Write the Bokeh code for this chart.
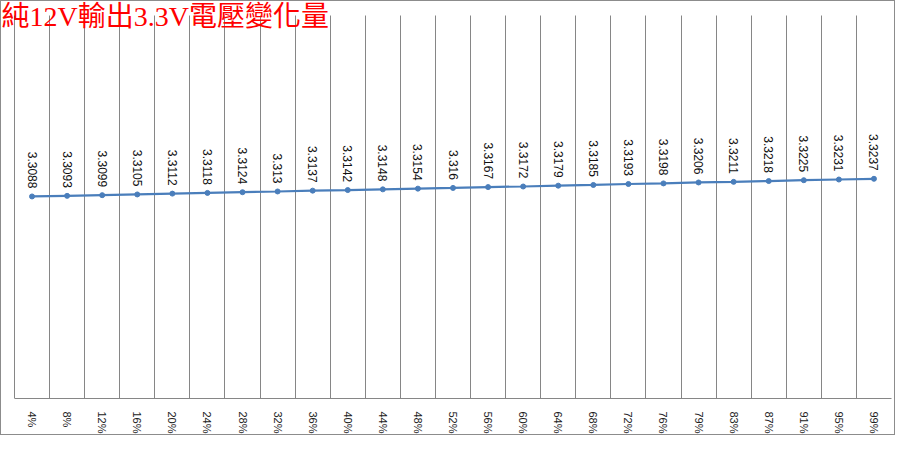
import math
from bokeh.plotting import figure
from bokeh.models import ColumnDataSource, FixedTicker, Label, Range1d
from bokeh.core.properties import value
from bokeh.embed import file_html
from bokeh.resources import INLINE

title_text = "純12V輸出3.3V電壓變化量"
categories = ["4%", "8%", "12%", "16%", "20%", "24%", "28%", "32%", "36%", "40%",
              "44%", "48%", "52%", "56%", "60%", "64%", "68%", "72%", "76%", "79%",
              "83%", "87%", "91%", "95%", "99%"]
voltages = [3.3088, 3.3093, 3.3099, 3.3105, 3.3112, 3.3118, 3.3124, 3.313, 3.3137, 3.3142,
            3.3148, 3.3154, 3.316, 3.3167, 3.3172, 3.3179, 3.3185, 3.3193, 3.3198, 3.3206,
            3.3211, 3.3218, 3.3225, 3.3231, 3.3237]

n = len(categories)
xs = [i + 0.5 for i in range(n)]
src = ColumnDataSource(dict(x=xs, y=voltages, lbl=[f"{v:g}" for v in voltages]))

W, H = 895, 435
BOTTOM = 36
y_lo, y_hi = 3.1385, 3.4614
frame_h = H - BOTTOM
px_per_unit = (frame_h - 14) / (y_hi - y_lo)
y_top = y_hi + 14 / px_per_unit
x_lo = -13 / ((W - 5 - 13) / n)

p = figure(width=W, height=H, output_backend="svg", toolbar_location=None,
           x_range=Range1d(x_lo, n), y_range=Range1d(y_lo, y_top),
           y_axis_location=None,
           min_border_left=0, min_border_right=5, min_border_top=0, min_border_bottom=BOTTOM)
p.styles = {"border": "1px solid #8c8c8c"}
p.outline_line_color = None
p.background_fill_color = "white"
p.border_fill_color = "white"

# grid at category boundaries
p.xgrid.ticker = FixedTicker(ticks=list(range(n + 1)))
p.xgrid.grid_line_color = "#868686"
p.xgrid.grid_line_width = 1
p.xgrid.cross_bounds = (y_lo, y_hi)
p.ygrid.grid_line_color = None

ax = p.xaxis[0]
ax.ticker = FixedTicker(ticks=xs)
ax.bounds = (0, n)
ax.major_label_overrides = {x: c for x, c in zip(xs, categories)}
ax.major_label_orientation = -math.pi / 2
ax.major_label_text_font = "Liberation Sans"
ax.major_label_text_font_size = "11px"
ax.major_label_text_color = "#222222"
ax.major_label_standoff = 7
ax.axis_line_color = "#868686"
ax.major_tick_line_color = None
ax.minor_tick_line_color = None

p.line("x", "y", source=src, line_color="#4A7EBB", line_width=2.2)
p.scatter("x", "y", source=src, size=5, fill_color="#4A7EBB", line_color="#4A7EBB")

p.text("x", "y", text="lbl", source=src, angle=-math.pi / 2,
       text_align="right", text_baseline="middle", y_offset=-8,
       text_font=value("Liberation Sans"), text_font_size="12px", text_color="#111111")

p.add_layout(Label(x=0, y=frame_h - 1, x_units="screen", y_units="screen",
                   text=title_text, text_baseline="top", text_align="left",
                   text_font="'Liberation Serif', 'Noto Sans CJK TC', serif",
                   text_font_size="28px", text_color="#FF0000"))

open("out.html", "w").write(file_html(p, INLINE))
